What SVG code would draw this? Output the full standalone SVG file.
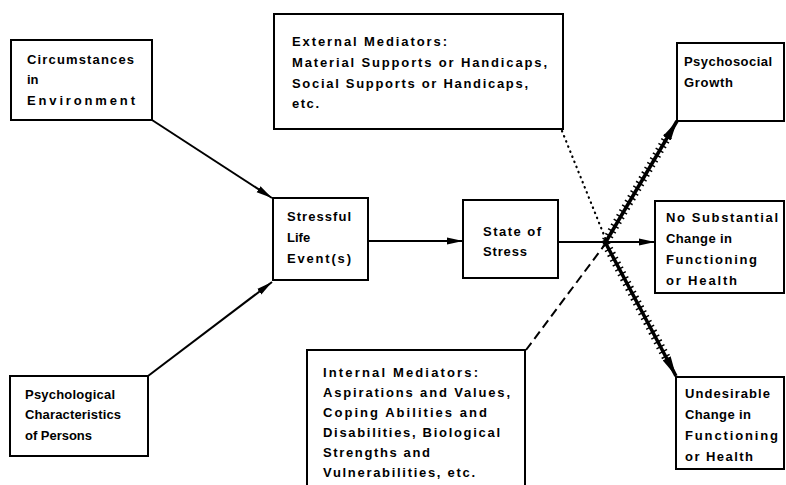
<svg xmlns="http://www.w3.org/2000/svg" width="786" height="485" viewBox="0 0 786 485">
<defs>
<style>
.box{fill:#fff;stroke:#000;stroke-width:2}
.t{font-family:"Liberation Sans",Arial,sans-serif;font-size:13px;font-weight:bold;fill:#000}
.ln{stroke:#000;stroke-width:2;fill:none}
</style>
<marker id="ah" viewBox="0 0 16 8" refX="16" refY="4" markerWidth="16" markerHeight="8" markerUnits="userSpaceOnUse" orient="auto">
<path d="M0,0.5 L16,4 L0,7.5 Z" fill="#000"/>
</marker>
<marker id="ahb" viewBox="0 0 20 10" refX="20" refY="5" markerWidth="20" markerHeight="10" markerUnits="userSpaceOnUse" orient="auto">
<path d="M0,0.5 L20,5 L0,9.5 Z" fill="#000"/>
</marker>
</defs>
<rect width="786" height="485" fill="#fff"/>

<g id="connectors">
<line class="ln" x1="152" y1="120" x2="272" y2="198" marker-end="url(#ah)"/>
<line class="ln" x1="148" y1="376" x2="272" y2="282" marker-end="url(#ah)"/>
<line class="ln" x1="368" y1="241" x2="463" y2="241" marker-end="url(#ah)"/>
<line class="ln" x1="558" y1="242" x2="655" y2="242" marker-end="url(#ah)"/>
<line x1="562" y1="131" x2="606" y2="240" stroke="#000" stroke-width="2.2" stroke-dasharray="0.5 5" stroke-linecap="round"/>
<line x1="526" y1="350" x2="606" y2="243" stroke="#000" stroke-width="2" stroke-dasharray="9 5"/>
<g id="wavy-up">
<line x1="604" y1="245" x2="677" y2="121" stroke="#000" stroke-width="3.5" marker-end="url(#ahb)"/>
<line x1="606" y1="241" x2="668" y2="136" stroke="#000" stroke-width="9" stroke-dasharray="1.5 4"/>
</g>
<g id="wavy-down">
<line x1="604" y1="240" x2="676" y2="376" stroke="#000" stroke-width="3.5" marker-end="url(#ahb)"/>
<line x1="606" y1="244" x2="667" y2="359" stroke="#000" stroke-width="9" stroke-dasharray="1.5 4"/>
</g>
</g>

<g id="circumstances">
<rect class="box" x="11" y="40" width="141" height="80"/>
<text class="t" x="27" y="64" textLength="107" lengthAdjust="spacing">Circumstances</text>
<text class="t" x="27" y="84">in</text>
<text class="t" x="27" y="105" textLength="108" lengthAdjust="spacing">Environment</text>
</g>

<g id="psychological">
<rect class="box" x="10" y="376" width="138" height="80"/>
<text class="t" x="25" y="399" textLength="90" lengthAdjust="spacing">Psychological</text>
<text class="t" x="25" y="419" textLength="96" lengthAdjust="spacing">Characteristics</text>
<text class="t" x="25" y="440" textLength="67" lengthAdjust="spacing">of Persons</text>
</g>

<g id="stressful">
<rect class="box" x="273" y="198" width="95" height="82"/>
<text class="t" x="287" y="221" textLength="64" lengthAdjust="spacing">Stressful</text>
<text class="t" x="287" y="242">Life</text>
<text class="t" x="287" y="263" textLength="64" lengthAdjust="spacing">Event(s)</text>
</g>

<g id="state">
<rect class="box" x="463" y="200" width="95" height="78"/>
<text class="t" x="483" y="236" textLength="58" lengthAdjust="spacing">State of</text>
<text class="t" x="483" y="256" textLength="44" lengthAdjust="spacing">Stress</text>
</g>

<g id="external">
<rect class="box" x="274" y="14" width="289" height="115"/>
<text class="t" x="292" y="46" textLength="155" lengthAdjust="spacing">External Mediators:</text>
<text class="t" x="292" y="67" textLength="255" lengthAdjust="spacing">Material Supports or Handicaps,</text>
<text class="t" x="292" y="88" textLength="236" lengthAdjust="spacing">Social Supports or Handicaps,</text>
<text class="t" x="292" y="108" textLength="27" lengthAdjust="spacing">etc.</text>
</g>

<g id="internal">
<rect class="box" x="307" y="350" width="218" height="145"/>
<text class="t" x="323" y="377" textLength="155" lengthAdjust="spacing">Internal Mediators:</text>
<text class="t" x="323" y="397" textLength="187" lengthAdjust="spacing">Aspirations and Values,</text>
<text class="t" x="323" y="417" textLength="164" lengthAdjust="spacing">Coping Abilities and</text>
<text class="t" x="323" y="437" textLength="177" lengthAdjust="spacing">Disabilities, Biological</text>
<text class="t" x="323" y="457" textLength="107" lengthAdjust="spacing">Strengths and</text>
<text class="t" x="323" y="477" textLength="152" lengthAdjust="spacing">Vulnerabilities, etc.</text>
</g>

<g id="growth">
<rect class="box" x="677" y="43" width="107" height="78"/>
<text class="t" x="684" y="66" textLength="88" lengthAdjust="spacing">Psychosocial</text>
<text class="t" x="684" y="87" textLength="49" lengthAdjust="spacing">Growth</text>
</g>

<g id="nochange">
<rect class="box" x="655" y="201" width="129" height="92"/>
<text class="t" x="666" y="222" textLength="112" lengthAdjust="spacing">No Substantial</text>
<text class="t" x="666" y="243" textLength="66" lengthAdjust="spacing">Change in</text>
<text class="t" x="666" y="264" textLength="91" lengthAdjust="spacing">Functioning</text>
<text class="t" x="666" y="285" textLength="71" lengthAdjust="spacing">or Health</text>
</g>

<g id="undesirable">
<rect class="box" x="676" y="377" width="108" height="92"/>
<text class="t" x="685" y="398" textLength="85" lengthAdjust="spacing">Undesirable</text>
<text class="t" x="685" y="419" textLength="66" lengthAdjust="spacing">Change in</text>
<text class="t" x="685" y="440" textLength="93" lengthAdjust="spacing">Functioning</text>
<text class="t" x="685" y="461" textLength="68" lengthAdjust="spacing">or Health</text>
</g>
</svg>
